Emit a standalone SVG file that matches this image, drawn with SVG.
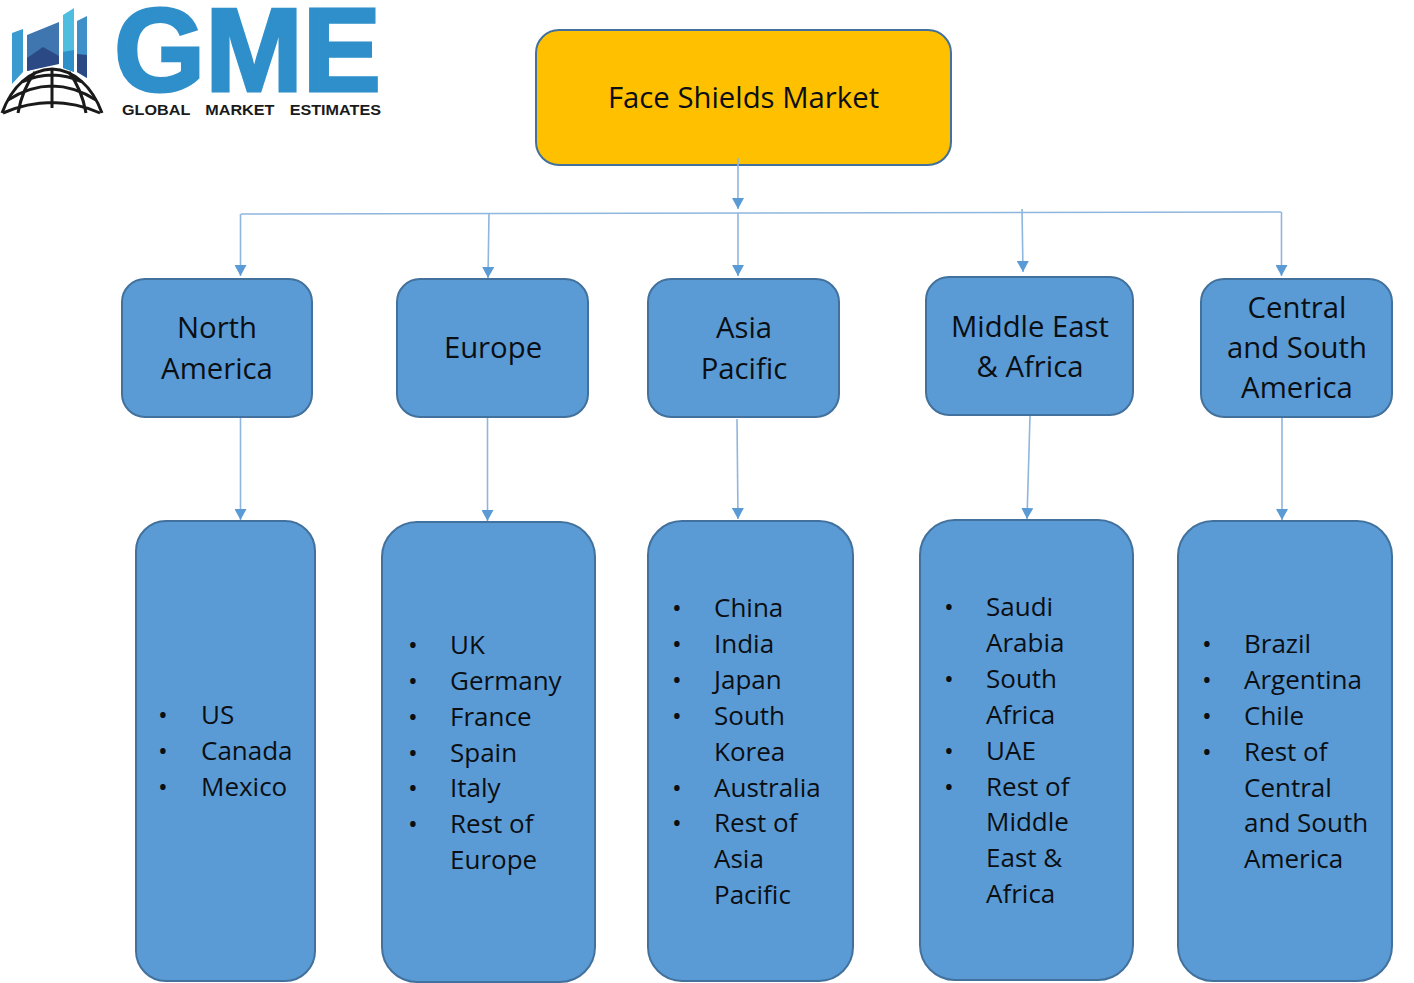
<svg xmlns="http://www.w3.org/2000/svg" width="1414" height="983" viewBox="0 0 1414 983">
<style>
text{font-family:"Open Sans","Noto Sans","Liberation Sans",sans-serif;fill:#0b0f14;font-size:29.300px}
.h{text-anchor:middle}
.l{font-size:26px;transform:translateY(-1px)}
.box{fill:#5b9bd5;stroke:#41719c;stroke-width:2}
.c{fill:none;stroke:#8fb6de;stroke-width:1.6}
.g{fill:none;stroke:#1a1a1a;stroke-width:3}
.big{font-family:"Liberation Sans",sans-serif;font-size:118px;font-weight:700;fill:#2e8fca;stroke:#2e8fca;stroke-width:3}
.tag{font-family:"Liberation Sans",sans-serif;font-size:15px;font-weight:700;fill:#1a1a1a;word-spacing:10px}
</style>
<defs><marker id="a" markerUnits="userSpaceOnUse" markerWidth="11" markerHeight="12" refX="11" refY="6" orient="auto" viewBox="0 0 11 12"><path d="M0 0L11 6L0 12Z" fill="#5b9bd5"/></marker></defs>
<g id="logo">
<path d="M12 33L23 29V72L12 84Z" fill="#3a9bd0"/>
<path d="M27 35L59 22V63L27 71Z" fill="#3f76b0"/>
<path d="M27 58L43 47L59 56V64L27 71Z" fill="#2b4a85"/>
<path d="M63 15L74 8V72L63 68Z" fill="#4fbde0"/>
<path d="M63 52L74 50V72L63 68Z" fill="#2f8fc9"/>
<path d="M77 21L87 16V78L77 72Z" fill="#3f8fc9"/>
<path d="M77 54L87 55V78L77 72Z" fill="#2b4a85"/>
<path class="g" d="M2 113C12 86 30 70 52 69C74 70 92 86 102 113"/>
<path class="g" d="M8 100Q52 72 96 100M22 82Q52 68 82 82M3 113Q52 92 100 113M52 69V108M35 72Q22 90 18 113M69 72Q82 90 86 113"/>
<text class="big" x="114" y="91" textLength="267" lengthAdjust="spacingAndGlyphs">GME</text>
<text class="tag" x="122" y="115" textLength="259" lengthAdjust="spacingAndGlyphs">GLOBAL MARKET ESTIMATES</text>
</g>
<g id="root"><rect x="536" y="30" width="415" height="135" rx="23" fill="#ffc000" stroke="#41719c" stroke-width="2"/><text class="h" x="743.500" y="108">Face Shields Market</text></g>
<g id="n1"><rect class="box" x="122" y="279" width="190" height="138" rx="23"/><text class="h" x="217" y="338">North</text><text class="h" x="217" y="379">America</text></g>
<g id="n2"><rect class="box" x="397" y="279" width="191" height="138" rx="23"/><text class="h" x="493" y="358">Europe</text></g>
<g id="n3"><rect class="box" x="648" y="279" width="191" height="138" rx="23"/><text class="h" x="744" y="338">Asia</text><text class="h" x="744" y="379">Pacific</text></g>
<g id="n4"><rect class="box" x="926" y="277" width="207" height="138" rx="23"/><text class="h" x="1030" y="337">Middle East</text><text class="h" x="1030" y="377">&amp; Africa</text></g>
<g id="n5"><rect class="box" x="1201" y="279" width="191" height="138" rx="23"/><text class="h" x="1297" y="318">Central</text><text class="h" x="1297" y="358">and South</text><text class="h" x="1297" y="398">America</text></g>
<g id="l1"><rect class="box" x="136" y="521" width="179" height="460" rx="30"/>
<text class="l" x="158" y="725">•</text><text class="l" x="201" y="725">US</text><text class="l" x="158" y="761">•</text><text class="l" x="201" y="761">Canada</text><text class="l" x="158" y="797">•</text><text class="l" x="201" y="797">Mexico</text></g>
<g id="l2"><rect class="box" x="382" y="522" width="213" height="460" rx="35"/>
<text class="l" x="408" y="655">•</text><text class="l" x="450" y="655">UK</text><text class="l" x="408" y="691">•</text><text class="l" x="450" y="691">Germany</text><text class="l" x="408" y="727">•</text><text class="l" x="450" y="727">France</text><text class="l" x="408" y="763">•</text><text class="l" x="450" y="763">Spain</text><text class="l" x="408" y="798">•</text><text class="l" x="450" y="798">Italy</text><text class="l" x="408" y="834">•</text><text class="l" x="450" y="834">Rest of</text><text class="l" x="450" y="870">Europe</text></g>
<g id="l3"><rect class="box" x="648" y="521" width="205" height="460" rx="34"/>
<text class="l" x="672" y="618">•</text><text class="l" x="714" y="618">China</text><text class="l" x="672" y="654">•</text><text class="l" x="714" y="654">India</text><text class="l" x="672" y="690">•</text><text class="l" x="714" y="690">Japan</text><text class="l" x="672" y="726">•</text><text class="l" x="714" y="726">South</text><text class="l" x="714" y="762">Korea</text><text class="l" x="672" y="798">•</text><text class="l" x="714" y="798">Australia</text><text class="l" x="672" y="833">•</text><text class="l" x="714" y="833">Rest of</text><text class="l" x="714" y="869">Asia</text><text class="l" x="714" y="905">Pacific</text></g>
<g id="l4"><rect class="box" x="920" y="520" width="213" height="460" rx="35"/>
<text class="l" x="944" y="617">•</text><text class="l" x="986" y="617">Saudi</text><text class="l" x="986" y="653">Arabia</text><text class="l" x="944" y="689">•</text><text class="l" x="986" y="689">South</text><text class="l" x="986" y="725">Africa</text><text class="l" x="944" y="761">•</text><text class="l" x="986" y="761">UAE</text><text class="l" x="944" y="797">•</text><text class="l" x="986" y="797">Rest of</text><text class="l" x="986" y="832">Middle</text><text class="l" x="986" y="868">East &amp;</text><text class="l" x="986" y="904">Africa</text></g>
<g id="l5"><rect class="box" x="1178" y="521" width="214" height="460" rx="35"/>
<text class="l" x="1202" y="654">•</text><text class="l" x="1244" y="654">Brazil</text><text class="l" x="1202" y="690">•</text><text class="l" x="1244" y="690">Argentina</text><text class="l" x="1202" y="726">•</text><text class="l" x="1244" y="726">Chile</text><text class="l" x="1202" y="762">•</text><text class="l" x="1244" y="762">Rest of</text><text class="l" x="1244" y="798">Central</text><text class="l" x="1244" y="833">and South</text><text class="l" x="1244" y="869">America</text></g>
<g id="connectors">
<path class="c" d="M738 158V209" marker-end="url(#a)"/>
<path class="c" d="M241 214L1281 212"/>
<path class="c" d="M240.500 214V276" marker-end="url(#a)"/>
<path class="c" d="M489 213L488 278" marker-end="url(#a)"/>
<path class="c" d="M738 213V276" marker-end="url(#a)"/>
<path class="c" d="M1022 209L1023 272" marker-end="url(#a)"/>
<path class="c" d="M1281.500 212V276" marker-end="url(#a)"/>
<path class="c" d="M240.500 418V520" marker-end="url(#a)"/>
<path class="c" d="M487.500 418V521" marker-end="url(#a)"/>
<path class="c" d="M737 419L738 519" marker-end="url(#a)"/>
<path class="c" d="M1030 416L1027 519" marker-end="url(#a)"/>
<path class="c" d="M1282 418V520" marker-end="url(#a)"/>
</g>
</svg>
